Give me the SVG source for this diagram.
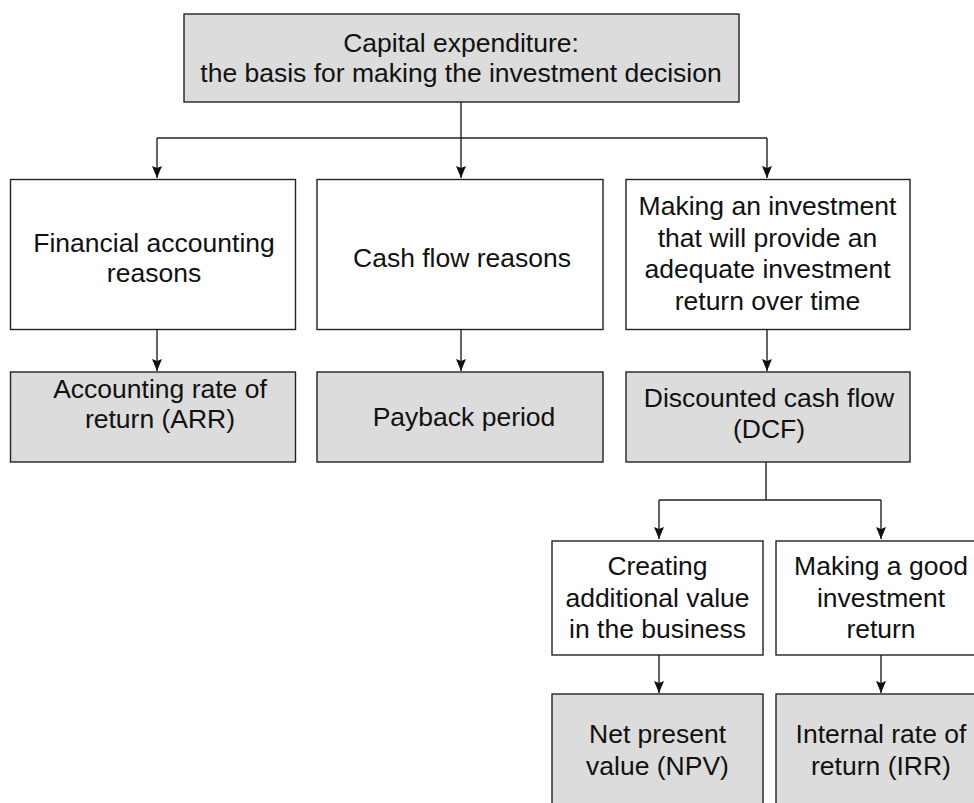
<svg xmlns="http://www.w3.org/2000/svg" width="974" height="803" viewBox="0 0 974 803">
<style>
.box{fill:#ffffff;stroke:#222;stroke-width:1.4}
.grey{fill:#dcdcdc;stroke:#222;stroke-width:1.4}
.t{font-family:"Liberation Sans",Arial,sans-serif;font-size:26.5px;fill:#111;text-anchor:middle}
.c{fill:none;stroke:#222;stroke-width:1.4}
</style>
<defs>
<marker id="ah" viewBox="0 0 12 10" refX="12" refY="5" markerWidth="12" markerHeight="10" markerUnits="userSpaceOnUse" orient="auto">
<path d="M0,0 L12,5 L0,10 L2,5 Z" fill="#111"/>
</marker>
</defs>
<rect width="974" height="803" fill="#ffffff"/>
<g id="connectors">
<path class="c" d="M461,102 V138"/>
<path class="c" d="M157,138 H767"/>
<path class="c" d="M157,138 V178" marker-end="url(#ah)"/>
<path class="c" d="M461,138 V178" marker-end="url(#ah)"/>
<path class="c" d="M767,138 V178" marker-end="url(#ah)"/>
<path class="c" d="M157,329 V371" marker-end="url(#ah)"/>
<path class="c" d="M461,329 V371" marker-end="url(#ah)"/>
<path class="c" d="M767,329 V371" marker-end="url(#ah)"/>
<path class="c" d="M766,462 V500 M659,500 H881"/>
<path class="c" d="M659,500 V539" marker-end="url(#ah)"/>
<path class="c" d="M881,500 V539" marker-end="url(#ah)"/>
<path class="c" d="M659,655 V693" marker-end="url(#ah)"/>
<path class="c" d="M881,655 V693" marker-end="url(#ah)"/>
</g>
<g id="capex">
<rect class="grey" x="184" y="14" width="555" height="88"/>
<text class="t" x="461" y="52">Capital expenditure:</text>
<text class="t" x="461" y="82">the basis for making the investment decision</text>
</g>
<g id="financial">
<rect class="box" x="10.5" y="179.5" width="285" height="150"/>
<text class="t" x="154" y="252">Financial accounting</text>
<text class="t" x="154" y="282">reasons</text>
</g>
<g id="cashflow">
<rect class="box" x="317" y="179.5" width="286" height="150"/>
<text class="t" x="462" y="267">Cash flow reasons</text>
</g>
<g id="making">
<rect class="box" x="626" y="179.5" width="284" height="150"/>
<text class="t" x="767.5" y="215">Making an investment</text>
<text class="t" x="767.5" y="247">that will provide an</text>
<text class="t" x="767.5" y="278">adequate investment</text>
<text class="t" x="767.5" y="310">return over time</text>
</g>
<g id="arr">
<rect class="grey" x="10.5" y="372" width="285" height="90"/>
<text class="t" x="160" y="398">Accounting rate of</text>
<text class="t" x="160" y="428">return (ARR)</text>
</g>
<g id="payback">
<rect class="grey" x="317" y="372" width="286" height="90"/>
<text class="t" x="464" y="426">Payback period</text>
</g>
<g id="dcf">
<rect class="grey" x="626" y="372" width="284" height="90"/>
<text class="t" x="769" y="407">Discounted cash flow</text>
<text class="t" x="769" y="438">(DCF)</text>
</g>
<g id="creating">
<rect class="box" x="552" y="541" width="211" height="114"/>
<text class="t" x="657.5" y="575">Creating</text>
<text class="t" x="657.5" y="607">additional value</text>
<text class="t" x="657.5" y="638">in the business</text>
</g>
<g id="goodreturn">
<rect class="box" x="776" y="541" width="210" height="114"/>
<text class="t" x="881" y="575">Making a good</text>
<text class="t" x="881" y="607">investment</text>
<text class="t" x="881" y="638">return</text>
</g>
<g id="npv">
<rect class="grey" x="552" y="694" width="211" height="120"/>
<text class="t" x="657.5" y="743">Net present</text>
<text class="t" x="657.5" y="775">value (NPV)</text>
</g>
<g id="irr">
<rect class="grey" x="776" y="694" width="210" height="120"/>
<text class="t" x="881" y="743">Internal rate of</text>
<text class="t" x="881" y="775">return (IRR)</text>
</g>
</svg>
